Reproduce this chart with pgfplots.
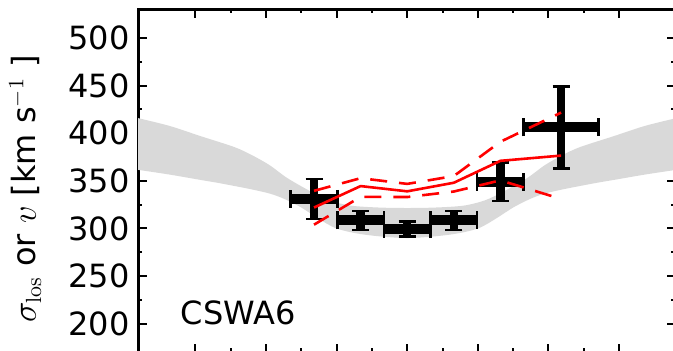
\documentclass[border=0pt]{standalone}
\usepackage[no-math]{fontspec}
\setmainfont{DejaVu Sans}
\usepackage{pgfplots}
\pgfplotsset{compat=1.18}
\usepgfplotslibrary{fillbetween}
\usetikzlibrary{calc}
\definecolor{bandgray}{gray}{0.85}

% binned line-of-sight velocity dispersion: centre, half-width, value, error
\pgfplotstableread{
x      ex     y      ey
-1.32  0.33   331    21
-0.66  0.33   308.5  10
0.00   0.33   299.5  8
0.66   0.33   308.5  10
1.32   0.33   349    20
2.18   0.53   406    43
}\binned

\begin{document}
\begin{tikzpicture}
\begin{axis}[
  scale only axis,
  width=268.5pt, height=171.55pt,
  xmin=-3.813, xmax=3.793,
  ymin=170, ymax=530,
  xtick={-3,-2,...,3},
  xticklabels={},
  ytick={200,250,...,500},
  minor x tick num=1,
  minor y tick num=1,
  tick align=inside,
  axis line style={line width=1.5pt},
  every tick/.style={black, line width=1pt},
  major tick length=4.25pt,
  minor tick length=2pt,
  /pgf/number format/assume math mode=true,
  tick label style={font=\fontsize{16}{19}\selectfont},
  yticklabel style={inner xsep=0pt, xshift=-4pt},
  every axis y label/.style={at={(axis description cs:-0.19,0.476)},
    anchor=base, rotate=90, font=\fontsize{16}{19}\selectfont},
  ylabel={$\sigma_{\mathrm{los}}$ or $v$ [km s$^{-1}$ ]},
]
% model band
\addplot[name path=up, draw=none, smooth] coordinates {
  (-4.0,419) (-3.81,415.8) (-3.36,407.5) (-2.93,397) (-2.45,385.5) (-2.2,377)
  (-1.95,366.5) (-1.7,353) (-1.37,339) (-1.1,329.5) (-0.8,324) (-0.4,322) (0,321.5)
  (0.4,322) (0.8,324) (1.1,329.5) (1.37,339) (1.7,353) (1.95,366.5) (2.2,377)
  (2.45,385.5) (2.93,397) (3.36,407.5) (3.81,415.8) (4.0,419)};
\addplot[name path=lo, draw=none, smooth] coordinates {
  (-4.0,363) (-3.81,361.5) (-3.36,356.5) (-2.93,351) (-2.69,348) (-2.44,344.5)
  (-2.2,341) (-1.94,336.5) (-1.74,331) (-1.5,322) (-1.27,311) (-1.0,300)
  (-0.6,293.5) (0,290) (0.6,293.5) (1.0,300) (1.27,311) (1.5,322) (1.74,331)
  (1.94,336.5) (2.2,341) (2.44,344.5) (2.69,348) (2.93,351) (3.36,356.5)
  (3.81,361.5) (4.0,363)};
\addplot[bandgray, draw=none] fill between[of=up and lo];

% horizontal (bin width) bars
\addplot[only marks, mark=none, black,
  error bars/.cd, x dir=both, x explicit,
  error bar style={line width=5pt},
  error mark options={line width=1.3pt, mark size=4.5pt, rotate=90}]
  table[x=x, y=y, x error=ex] {\binned};
% vertical (uncertainty) bars
\addplot[only marks, mark=none, black,
  error bars/.cd, y dir=both, y explicit,
  error bar style={line width=4.25pt},
  error mark options={line width=1.3pt, mark size=4.25pt, rotate=90}]
  table[x=x, y=y, y error=ey] {\binned};

% model prediction and its range
\addplot[red, line width=1.3pt] coordinates {
  (-1.32,322) (-0.66,344.5) (0,339) (0.66,348) (1.32,371) (2.18,376.5)};
\addplot[red, line width=1.3pt, dash pattern=on 8.5pt off 6pt] coordinates {
  (-1.32,339.5) (-0.66,352.8) (0,346.8) (0.66,355) (1.32,391) (2.18,421.6)};
\addplot[red, line width=1.3pt, dash pattern=on 8.5pt off 6pt] coordinates {
  (-1.32,304) (-0.66,333.2) (0,333) (0.66,338.8) (1.32,350.5) (2.18,331)};

\node[anchor=base west, inner sep=0pt, font=\fontsize{16}{19}\selectfont]
  at (axis cs:-3.21,199) {CSWA6};
\end{axis}
\pgfresetboundingbox
\useasboundingbox ($(current axis.south west)+(-69pt,0.7pt)$)
  rectangle ($(current axis.north east)+(-1pt,4.65pt)$);
\end{tikzpicture}
\end{document}
